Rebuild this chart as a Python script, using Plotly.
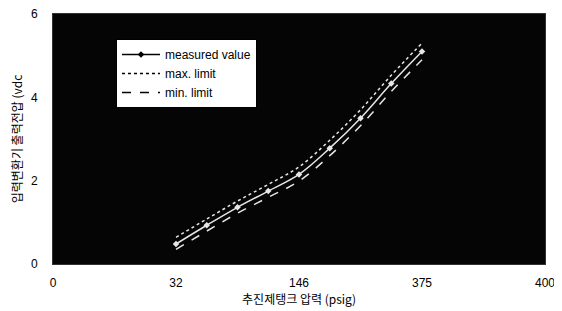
import plotly.graph_objects as go

# x positions on the evenly spaced category-like axis (tick index 0..4)
tick_pos = [0, 1, 2, 3, 4]
tick_labels = ["0", "32", "146", "375", "400"]

x_pos = [1.0, 1.25, 1.5, 1.75, 2.0, 2.25, 2.5, 2.75, 3.0]
measured = [0.48, 0.93, 1.36, 1.75, 2.15, 2.78, 3.5, 4.33, 5.1]
max_limit = [0.64, 1.08, 1.51, 1.91, 2.33, 2.97, 3.70, 4.53, 5.30]
min_limit = [0.35, 0.79, 1.22, 1.60, 1.99, 2.60, 3.32, 4.14, 4.90]

series_names = ["measured value", "max. limit", "min. limit"]

FONT = "Liberation Sans, Arial, Noto Sans CJK KR, sans-serif"
KFONT = "Noto Sans CJK KR, Liberation Sans, sans-serif"
LINE = "#e6e6e6"

fig = go.Figure()

# actual data traces (light on the dark plot area)
fig.add_trace(go.Scatter(x=x_pos, y=max_limit, mode="lines", line_shape="spline",
                         line=dict(color=LINE, width=1.5, dash="dot"), showlegend=False))
fig.add_trace(go.Scatter(x=x_pos, y=min_limit, mode="lines", line_shape="spline",
                         line=dict(color=LINE, width=1.5, dash="dash"), showlegend=False))
fig.add_trace(go.Scatter(x=x_pos, y=measured, mode="lines+markers", line_shape="spline",
                         line=dict(color=LINE, width=1.5),
                         marker=dict(symbol="diamond", size=5, color=LINE), showlegend=False))

# legend entries (black symbols on the white legend box)
fig.add_trace(go.Scatter(x=[None], y=[None], mode="lines+markers", name=series_names[0],
                         line=dict(color="black", width=1.5),
                         marker=dict(symbol="diamond", size=5, color="black")))
fig.add_trace(go.Scatter(x=[None], y=[None], mode="lines", name=series_names[1],
                         line=dict(color="black", width=1.5, dash="dot")))
fig.add_trace(go.Scatter(x=[None], y=[None], mode="lines", name=series_names[2],
                         line=dict(color="black", width=1.5, dash="dash")))

# the page body has an 8px default margin, so the figure is sized to fit the window
fig.update_layout(
    width=554, height=303,
    margin=dict(l=45, r=17, t=6, b=47),
    paper_bgcolor="white",
    plot_bgcolor="#050505",
    font=dict(family=FONT, size=12, color="black"),
    legend=dict(x=0.128, y=0.9, xanchor="left", yanchor="top",
                bgcolor="white", bordercolor="black", borderwidth=1,
                font=dict(size=12, family=FONT), tracegroupgap=0,
                itemwidth=38),
)
fig.update_xaxes(range=[0, 4], tickmode="array", tickvals=tick_pos, ticktext=tick_labels,
                 showgrid=False, zeroline=False, showline=True, linecolor="#333",
                 mirror=True, ticks="", ticklabelstandoff=8, automargin=False,
                 ticklabeloverflow="allow",
                 title=dict(text="추진제탱크 압력 (psig)", font=dict(family=KFONT, size=12), standoff=0))
fig.update_yaxes(range=[0, 6], tickvals=[0, 2, 4, 6],
                 showgrid=False, zeroline=False, showline=True, linecolor="#333",
                 mirror=True, ticks="", ticklabelstandoff=12, automargin=False,
                 ticklabeloverflow="allow",
                 title=dict(text="입력변환기 출력전압 (vdc", font=dict(family=KFONT, size=12), standoff=6))

fig.write_html("out.html")
